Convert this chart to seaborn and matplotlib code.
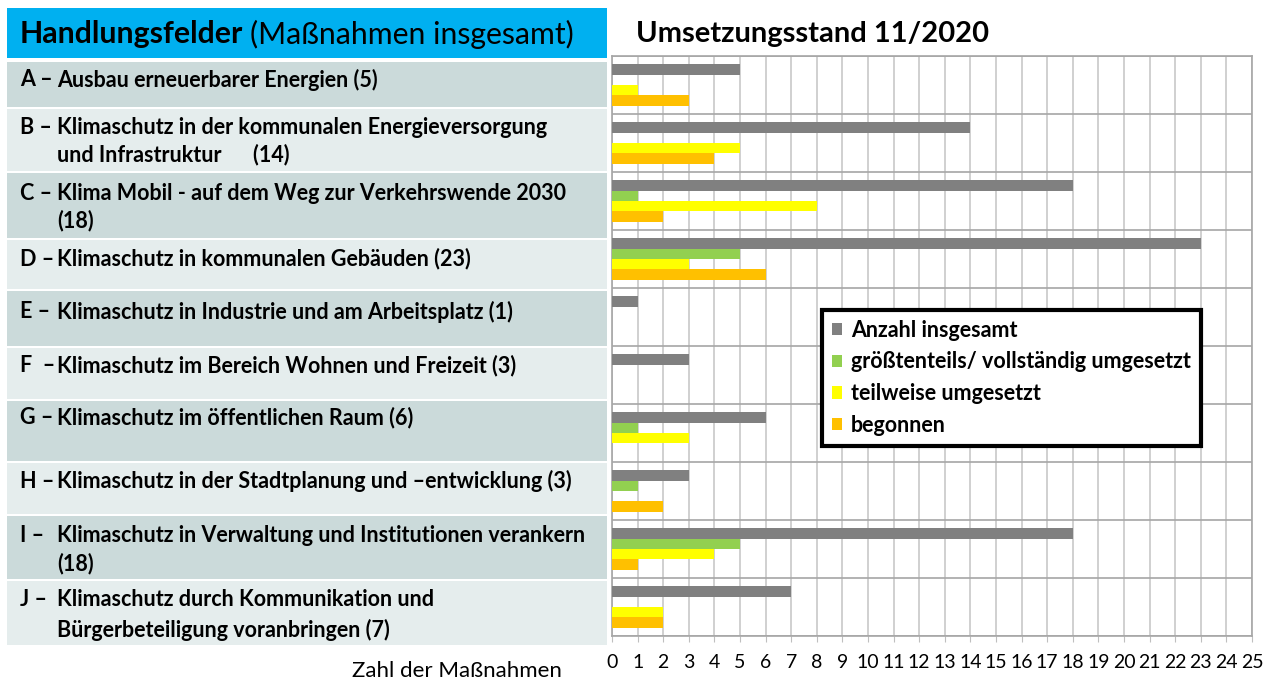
import matplotlib
matplotlib.use("Agg")
import matplotlib.pyplot as plt
from matplotlib.patches import Rectangle
import pandas as pd
import seaborn as sns

# Umsetzungsstand 11/2020 je Handlungsfeld
felder = ["A", "B", "C", "D", "E", "F", "G", "H", "I", "J"]
anzahl_insgesamt = [5, 14, 18, 23, 1, 3, 6, 3, 18, 7]
umgesetzt = [0, 0, 1, 5, 0, 0, 1, 1, 5, 0]
teilweise = [1, 5, 8, 3, 0, 0, 3, 0, 4, 2]
begonnen = [3, 4, 2, 6, 0, 0, 0, 2, 1, 2]

status_labels = ["Anzahl insgesamt", "größtenteils/ vollständig umgesetzt",
                 "teilweise umgesetzt", "begonnen"]
status_colors = ["#808080", "#92D050", "#FFFF00", "#FFC000"]

row_prefix = ["A –", "B –", "C –", "D –", "E –", "F  –", "G –", "H –", "I –", "J –"]
row_lines = [
    ["Ausbau erneuerbarer Energien (5)"],
    ["Klimaschutz in der kommunalen Energieversorgung", "und Infrastruktur      (14)"],
    ["Klima Mobil - auf dem Weg zur Verkehrswende 2030", "(18)"],
    ["Klimaschutz in kommunalen Gebäuden (23)"],
    ["Klimaschutz in Industrie und am Arbeitsplatz (1)"],
    ["Klimaschutz im Bereich Wohnen und Freizeit (3)"],
    ["Klimaschutz im öffentlichen Raum (6)"],
    ["Klimaschutz in der Stadtplanung und –entwicklung (3)"],
    ["Klimaschutz in Verwaltung und Institutionen verankern", "(18)"],
    ["Klimaschutz durch Kommunikation und", "Bürgerbeteiligung voranbringen (7)"],
]
x_ticks = list(range(0, 26))

df = pd.DataFrame({
    "feld": felder * 4,
    "status": [s for s in status_labels for _ in felder],
    "anzahl": anzahl_insgesamt + umgesetzt + teilweise + begonnen,
})

FONT = "Lato"
plt.rcParams["font.family"] = [FONT, "DejaVu Sans"]

W, H = 1275, 682
fig = plt.figure(figsize=(W / 100, H / 100), dpi=100)

# background layer in pixel coordinates for the text table
bg = fig.add_axes([0, 0, 1, 1])
bg.set_xlim(0, W)
bg.set_ylim(H, 0)
bg.axis("off")

bg.add_patch(Rectangle((7, 8), 600, 50, color="#00B0F0", lw=0))
t = bg.text(20, 34, "Handlungsfelder", fontsize=21.8, fontweight="bold", va="center")
fig.canvas.draw()
bb = t.get_window_extent(fig.canvas.get_renderer())
bg.text(bb.x1 + 7, 34, "(Maßnahmen insgesamt)", fontsize=21.8, va="center")

row_bounds = [(62, 107), (109, 171), (173, 238), (240, 289), (291, 346),
              (348, 399), (401, 461), (463, 514), (516, 579), (581, 645)]
line_y = [[80], [127, 155], [193, 221], [259], [312], [366], [418], [481],
          [535, 564], [600, 630]]
for i, (y0, y1) in enumerate(row_bounds):
    col = "#CBDADA" if i % 2 == 0 else "#E5EDED"
    bg.add_patch(Rectangle((7, y0), 600, y1 - y0, color=col, lw=0))
    bg.text(20, line_y[i][0], row_prefix[i], fontsize=15.5, fontweight="bold", va="center")
    for txt, yy in zip(row_lines[i], line_y[i]):
        bg.text(57, yy, txt, fontsize=15.5, fontweight="bold", va="center")

bg.text(636, 34, "Umsetzungsstand 11/2020", fontsize=21, fontweight="bold", va="center")
bg.text(562, 671, "Zahl der Maßnahmen", fontsize=16, ha="right", va="center")

# bar chart
ax = fig.add_axes([612 / W, 46 / H, 640 / W, 580 / H])
sns.barplot(data=df, y="feld", x="anzahl", hue="status", hue_order=status_labels,
            palette=status_colors, orient="h", width=0.72, saturation=1,
            errorbar=None, gap=0, ax=ax, zorder=3)

ax.set_xlim(0, 25)
ax.set_ylim(9.5, -0.5)
ax.set_xticks(x_ticks)
ax.set_xticklabels([str(v) for v in x_ticks], fontsize=14)
ax.set_yticks([])
ax.set_yticks([i - 0.5 for i in range(11)], minor=True)
ax.tick_params(axis="y", which="both", length=0)
ax.tick_params(axis="x", length=4, color="#BFBFBF", pad=9)
ax.set_xlabel("")
ax.set_ylabel("")
ax.grid(axis="x", which="major", color="#C8C8C8", lw=1.2, zorder=0)
ax.grid(axis="y", which="minor", color="#A6A6A6", lw=1.2, zorder=0)
ax.set_axisbelow(True)
for s in ax.spines.values():
    s.set_color("#A6A6A6")
    s.set_linewidth(1.2)

handles, labels = ax.get_legend_handles_labels()
ax.legend_.remove()
leg = fig.legend(handles, labels, loc="upper left",
                 bbox_to_anchor=(822 / W, 1 - 310 / H), frameon=True,
                 fancybox=False, edgecolor="black", framealpha=1,
                 prop={"family": FONT, "weight": "bold", "size": 15.5},
                 handlelength=0.5, handleheight=0.5, handletextpad=0.4,
                 labelspacing=0.5, borderpad=0.45, borderaxespad=0)
leg.get_frame().set_linewidth(3)

fig.savefig("out.png", dpi=100)
